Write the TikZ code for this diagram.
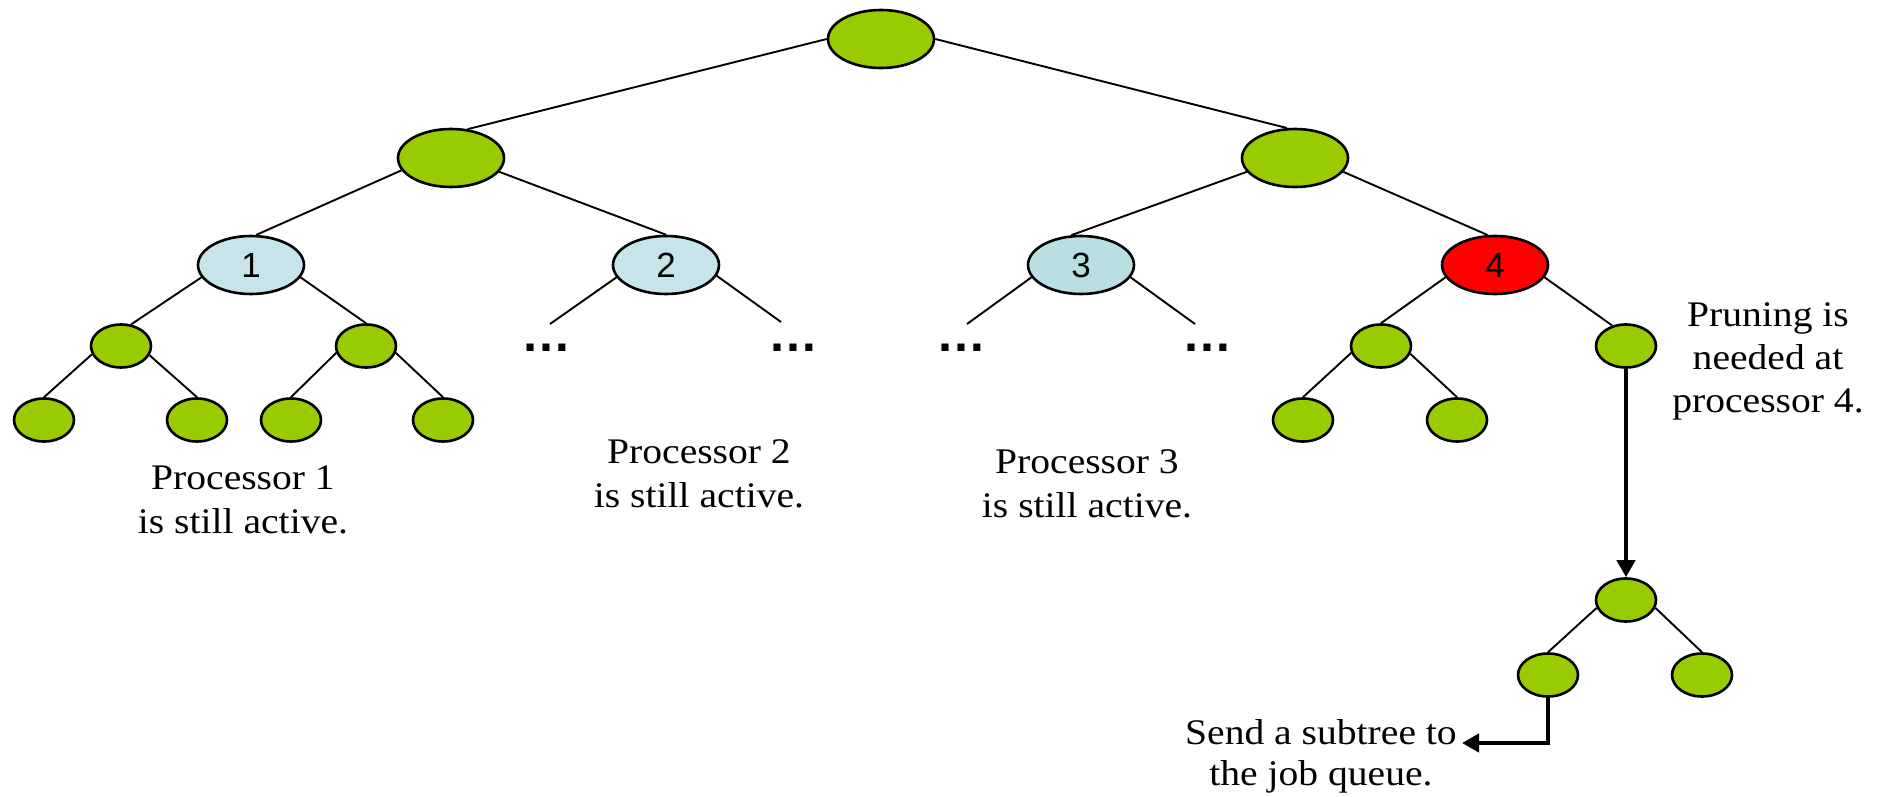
\documentclass[tikz,border=0pt]{standalone}
\usepackage{fontspec}
\setmainfont{Liberation Serif}[FakeStretch=1.1]
\newfontfamily\labelsans{Liberation Sans}
\usetikzlibrary{shapes.geometric,arrows.meta}
\definecolor{leafgreen}{HTML}{99CC00}
\definecolor{procblue}{HTML}{C6E4E9}
\definecolor{procblueb}{HTML}{B9DFE3}
\definecolor{hotred}{HTML}{FF0000}
\tikzset{
  treenode/.style={ellipse, draw, line width=2.6pt, inner sep=0pt,
    minimum width=106pt, minimum height=58pt, fill=leafgreen},
  smallnode/.style={ellipse, draw, line width=2.6pt, inner sep=0pt,
    minimum width=60pt, minimum height=43pt, fill=leafgreen},
  procnode/.style={treenode, fill=procblue,
    font=\labelsans\fontsize{35}{35}\selectfont},
  link/.style={line width=1.9pt},
  caption/.style={align=center, inner sep=0pt,
    font=\fontsize{36}{44}\selectfont},
  moredots/.style={anchor=base, inner sep=0pt,
    font=\labelsans\bfseries\fontsize{50}{50}\selectfont},
  bigarrow/.style={line width=4.5pt, -{Triangle[length=17pt,width=18pt]}},
}
\begin{document}
\begin{tikzpicture}[x=1pt,y=-1pt]
\useasboundingbox (0,0) rectangle (1883,797);

% upper tree
\node[treenode] (root) at (881,39) {};
\node[treenode] (l) at (451,158) {};
\node[treenode] (r) at (1295,158) {};
\node[procnode] (p1) at (251,265) {1};
\node[procnode] (p2) at (666,265) {2};
\node[procnode, fill=procblueb] (p3) at (1081,265) {3};
\node[procnode, fill=hotred] (p4) at (1495,265) {4};

% processor 1 subtree
\node[smallnode] (a) at (121,346) {};
\node[smallnode] (b) at (366,346) {};
\node[smallnode] (a1) at (44,420) {};
\node[smallnode] (a2) at (197,420) {};
\node[smallnode] (b1) at (291,420) {};
\node[smallnode] (b2) at (443,420) {};

% processor 4 subtree
\node[smallnode] (c) at (1381,346) {};
\node[smallnode] (d) at (1626,346) {};
\node[smallnode] (c1) at (1303,420) {};
\node[smallnode] (c2) at (1457,420) {};

% pruned subtree
\node[smallnode] (s) at (1626,600) {};
\node[smallnode] (s1) at (1548,675) {};
\node[smallnode] (s2) at (1702,675) {};

% open branches
\coordinate (p2l) at (550,324);
\coordinate (p2r) at (781,322);
\coordinate (p3l) at (967,324);
\coordinate (p3r) at (1195,324);
\coordinate (qtip) at (1462,743);

\draw[link] (root.west) -- (l.60);
\draw[link] (root.east) -- (r.105);
\draw[link] (l.-166) -- (p1.80);
\draw[link] (l.-16) -- (p2.north);
\draw[link] (r.-164) -- (p3.108);
\draw[link] (r.-16) -- (p4.104);
\draw[link] (p1.-166) -- (a.65);
\draw[link] (p1.-14) -- (b.north);
\draw[link] (a.-164) -- (a1.north);
\draw[link] (a.-18) -- (a2.north);
\draw[link] (b.-167) -- (b1.north);
\draw[link] (b.-13) -- (b2.north);
\draw[link] (p2.-166) -- (p2l);
\draw[link] (p2.-12) -- (p2r);
\draw[link] (p3.-166) -- (p3l);
\draw[link] (p3.-14) -- (p3r);
\draw[link] (p4.-166) -- (c.north);
\draw[link] (p4.-14) -- (d.124);
\draw[link] (c.-167) -- (c1.north);
\draw[link] (c.-15) -- (c2.north);
\draw[link] (s.-165) -- (s1.north);
\draw[link] (s.-15) -- (s2.north);

% elided subtrees
\node[moredots] (dots1) at (546,351) {…};
\node[moredots] (dots2) at (793,351) {…};
\node[moredots] (dots3) at (961,351) {…};
\node[moredots] (dots4) at (1207,351) {…};

% captions
\node[caption] (t1) at (243,500) {Processor 1\\is still active.};
\node[caption] (t2) at (699,474) {Processor 2\\is still active.};
\node[caption] (t3) at (1087,484) {Processor 3\\is still active.};
\node[caption, font=\fontsize{36}{43}\selectfont] (t4) at (1768,361) {Pruning is\\needed at\\processor 4.};
\node[caption, anchor=east, font=\fontsize{36}{41}\selectfont] (t5) at (1457,756) {Send a subtree to\\the job queue.};

% moving the subtree
\draw[bigarrow] (d.south) -- (s.north);
\draw[bigarrow] (s1.south) |- (qtip);
\end{tikzpicture}
\end{document}
